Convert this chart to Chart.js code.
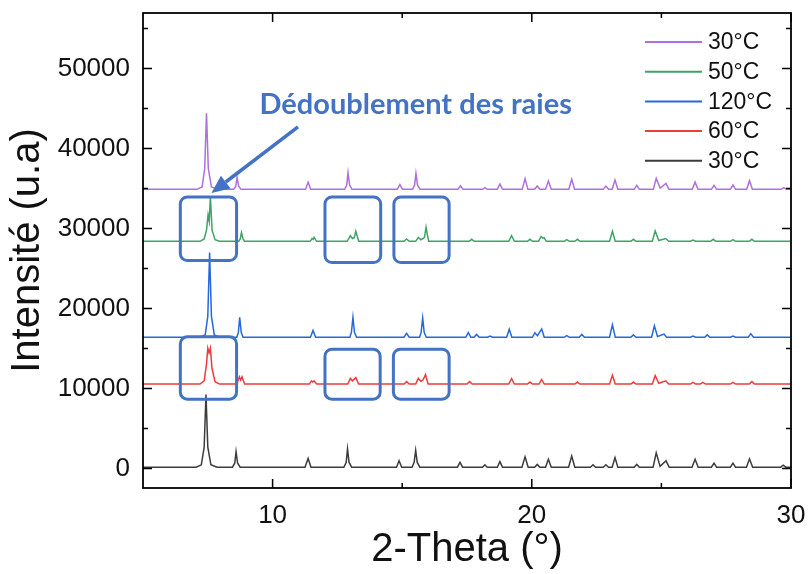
<!DOCTYPE html>
<html lang="fr">
<head>
    <meta charset="UTF-8">
    <title>DRX en température</title>
    <script src="https://cdn.jsdelivr.net/npm/chart.js"></script>
    <style>
        html, body { margin: 0; padding: 0; background: #fff; }
        #wrap { width: 810px; height: 574px; }
    </style>
</head>
<body>
    <div id="wrap">
        <canvas id="drxChart" width="810" height="574"></canvas>
    </div>

    <script>
        // Légende (de haut en bas) et décalage vertical de chaque diffractogramme
        const labels = ['30°C', '50°C', '120°C', '60°C', '30°C'];
        const colors = ['#B070DC', '#3FA366', '#2468DA', '#EE3B3B', '#3C3C3C'];
        const offsets = [34900, 28400, 16400, 10550, 150];

        // Profils : [2-theta, intensité au-dessus de la ligne de base]
        const profil30b = [
            [5,0],[7.08,0],[7.28,300],[7.38,2600],[7.45,9500],[7.52,2600],[7.64,300],[7.88,0],
            [8.5,0],[8.58,400],[8.63,1500],[8.69,400],[8.78,0],
            [11.27,0],[11.37,900],[11.47,0],
            [12.78,0],[12.86,550],[12.91,2100],[12.97,550],[13.06,0],
            [14.81,0],[14.91,600],[15.01,0],
            [15.4,0],[15.48,550],[15.53,2000],[15.59,550],[15.69,0],
            [17.15,0],[17.25,450],[17.35,0],
            [18.1,0],[18.19,200],[18.28,0],
            [18.67,0],[18.77,670],[18.87,0],
            [19.63,0],[19.74,1330],[19.85,0],
            [20.11,0],[20.21,420],[20.31,0],
            [20.53,0],[20.64,1040],[20.75,0],
            [21.43,0],[21.54,1250],[21.65,0],
            [22.76,0],[22.86,400],[22.96,0],
            [23.1,0],[23.21,1170],[23.32,0],
            [23.95,0],[24.05,500],[24.15,0],
            [24.69,0],[24.8,1370],[24.95,150],[25.18,750],[25.29,0],
            [26.19,0],[26.3,900],[26.41,0],
            [26.93,0],[27.03,500],[27.13,0],
            [27.66,0],[27.76,540],[27.86,0],
            [28.29,0],[28.4,1080],[28.51,0],
            [29.62,0],[29.72,200],[29.82,0],[30,0]
        ];
        const profil50 = [
            [5,0],[7.2,0],[7.36,300],[7.45,1400],[7.51,3300],[7.555,2500],[7.6,5600],[7.665,1400],[7.78,200],[7.95,0],
            [8.7,0],[8.75,300],[8.8,1100],[8.86,300],[8.92,0],
            [11.45,0],[11.52,350],[11.56,250],[11.6,500],[11.7,0],
            [12.88,0],[13.0,700],[13.08,350],[13.15,450],[13.21,1250],[13.32,0],
            [15.07,0],[15.17,300],[15.27,0],
            [15.52,0],[15.62,500],[15.72,200],[15.8,350],[15.86,500],[15.92,1750],[16.02,0],
            [17.58,0],[17.68,250],[17.78,0],
            [19.11,0],[19.22,700],[19.33,0],
            [19.83,0],[19.93,250],[20.03,0],
            [20.26,0],[20.36,600],[20.42,400],[20.47,450],[20.56,0],
            [21.25,0],[21.35,200],[21.45,0],
            [21.66,0],[21.76,250],[21.86,0],
            [23.0,0],[23.11,1250],[23.22,0],
            [23.82,0],[23.92,250],[24.02,0],
            [24.65,0],[24.76,1300],[24.9,100],[25.17,350],[25.28,0],
            [26.12,0],[26.22,150],[26.32,0],
            [26.9,0],[27.0,250],[27.1,0],
            [27.66,0],[27.76,200],[27.86,0],
            [28.39,0],[28.49,250],[28.59,0],[30,0]
        ];
        const profil120 = [
            [5,0],[7.2,0],[7.4,300],[7.5,2600],[7.57,10600],[7.64,2600],[7.75,300],[7.95,0],
            [8.62,0],[8.68,600],[8.73,2500],[8.79,600],[8.86,0],
            [11.46,0],[11.56,850],[11.66,0],
            [12.98,0],[13.04,600],[13.1,2500],[13.16,600],[13.24,0],
            [15.07,0],[15.17,500],[15.27,0],
            [15.67,0],[15.73,600],[15.79,2400],[15.85,600],[15.93,0],
            [17.45,0],[17.55,580],[17.65,0],
            [17.77,0],[17.87,350],[17.97,0],
            [18.29,0],[18.39,150],[18.49,0],
            [19.03,0],[19.13,1000],[19.23,0],
            [20.02,0],[20.12,570],[20.22,200],[20.38,1040],[20.48,0],
            [21.25,0],[21.35,200],[21.45,0],
            [21.83,0],[21.93,350],[22.03,0],
            [23.0,0],[23.11,1540],[23.22,0],
            [23.82,0],[23.92,300],[24.02,0],
            [24.62,0],[24.73,1420],[24.85,100],[25.1,400],[25.2,0],
            [26.12,0],[26.22,150],[26.32,0],
            [26.67,0],[26.77,300],[26.87,0],
            [27.66,0],[27.76,150],[27.86,0],
            [28.35,0],[28.45,450],[28.55,0],[30,0]
        ];
        const profil60 = [
            [5,0],[7.2,0],[7.36,400],[7.45,2500],[7.5,4500],[7.55,3900],[7.6,4500],[7.66,2000],[7.78,300],[7.95,0],
            [8.62,0],[8.72,900],[8.77,500],[8.82,900],[8.92,0],
            [11.42,0],[11.5,400],[11.55,250],[11.6,400],[11.7,0],
            [12.9,0],[13.0,700],[13.08,400],[13.21,800],[13.32,0],
            [15.07,0],[15.17,300],[15.27,0],
            [15.52,0],[15.62,700],[15.72,350],[15.8,500],[15.9,1170],[16.0,0],
            [17.5,0],[17.6,300],[17.7,0],
            [19.11,0],[19.22,670],[19.33,0],
            [19.83,0],[19.93,250],[20.03,0],
            [20.28,0],[20.38,570],[20.48,0],
            [21.66,0],[21.76,250],[21.86,0],
            [23.0,0],[23.11,1100],[23.22,0],
            [23.82,0],[23.92,250],[24.02,0],
            [24.65,0],[24.76,1070],[24.9,100],[25.17,400],[25.28,0],
            [26.12,0],[26.22,200],[26.32,0],
            [26.5,0],[26.6,200],[26.7,0],
            [27.66,0],[27.76,200],[27.86,0],
            [28.39,0],[28.49,300],[28.59,0],[30,0]
        ];
        const profil30a = [
            [5,0],[7.05,0],[7.25,300],[7.36,2500],[7.43,9100],[7.5,2500],[7.62,300],[7.85,0],
            [8.45,0],[8.54,500],[8.59,1950],[8.65,500],[8.75,0],
            [11.25,0],[11.37,1100],[11.48,0],
            [12.75,0],[12.84,600],[12.89,2300],[12.95,600],[13.05,0],
            [14.78,0],[14.88,800],[14.98,0],
            [15.38,0],[15.46,600],[15.52,2100],[15.58,600],[15.68,0],
            [17.13,0],[17.23,600],[17.33,0],
            [18.1,0],[18.19,300],[18.28,0],
            [18.67,0],[18.77,700],[18.87,0],
            [19.62,0],[19.74,1300],[19.86,0],
            [20.11,0],[20.21,350],[20.31,0],
            [20.53,0],[20.64,1000],[20.75,0],
            [21.42,0],[21.54,1400],[21.66,0],
            [22.26,0],[22.36,300],[22.46,0],
            [22.76,0],[22.86,300],[22.96,0],
            [23.1,0],[23.21,1200],[23.32,0],
            [23.95,0],[24.05,350],[24.15,0],
            [24.68,0],[24.8,1800],[24.95,100],[25.18,800],[25.3,0],
            [26.18,0],[26.3,1000],[26.42,0],
            [26.93,0],[27.03,500],[27.13,0],
            [27.66,0],[27.76,500],[27.86,0],
            [28.28,0],[28.4,1050],[28.52,0],
            [29.6,0],[29.7,250],[29.8,0],[30,0]
        ];
        const profils = [profil30b, profil50, profil120, profil60, profil30a];

        // Graduations
        const xTicks = [10, 20, 30];
        const xMinor = [15, 25];
        const yTicks = [0, 10000, 20000, 30000, 40000, 50000];
        const yMinor = [5000, 15000, 25000, 35000, 45000, 55000];

        // Annotations (coordonnées en unités des axes)
        const cadres = [
            [6.44, 8.61, 26000, 33950], [12.02, 14.17, 25750, 33950], [14.68, 16.81, 25750, 33950],
            [6.44, 8.61, 8660, 16450], [12.02, 14.15, 8660, 14910], [14.66, 16.81, 8660, 14910]
        ];
        const fleche = { from: [10.98, 42700], to: [7.64, 34450] };
        const texte = { label: 'Dédoublement des raies', x: 15.52, y: 45500 };
        const bleu = '#4472C4';

        const datasets = profils.map((p, i) => ({
            label: labels[i],
            data: p.map(pt => ({ x: pt[0], y: pt[1] + offsets[i] })),
            borderColor: colors[i],
            borderWidth: 1.5,
            pointRadius: 0,
            tension: 0,
            fill: false
        }));

        function cadreArrondi(ctx, x0, y0, x1, y1, r) {
            ctx.beginPath();
            ctx.moveTo(x0 + r, y0);
            ctx.arcTo(x1, y0, x1, y1, r);
            ctx.arcTo(x1, y1, x0, y1, r);
            ctx.arcTo(x0, y1, x0, y0, r);
            ctx.arcTo(x0, y0, x1, y0, r);
            ctx.closePath();
            ctx.stroke();
        }

        // pas de marge automatique autour des axes : la zone du graphe reste fixe
        function sansMarge(s) {
            s.paddingTop = 0; s.paddingBottom = 0;
            s.paddingLeft = 0; s.paddingRight = 0;
        }

        const decor = {
            id: 'decor',
            afterDatasetsDraw(chart) {
                const { ctx, chartArea: a, scales: { x, y } } = chart;
                ctx.save();

                // cadre + graduations vers l'intérieur sur les 4 côtés
                ctx.strokeStyle = '#000';
                ctx.lineWidth = 1.8;
                ctx.strokeRect(a.left, a.top, a.right - a.left, a.bottom - a.top);
                ctx.lineWidth = 1.5;
                ctx.beginPath();
                const tx = (v, len) => {
                    const px = x.getPixelForValue(v);
                    ctx.moveTo(px, a.bottom); ctx.lineTo(px, a.bottom - len);
                    ctx.moveTo(px, a.top); ctx.lineTo(px, a.top + len);
                };
                const ty = (v, len) => {
                    const py = y.getPixelForValue(v);
                    ctx.moveTo(a.left, py); ctx.lineTo(a.left + len, py);
                    ctx.moveTo(a.right, py); ctx.lineTo(a.right - len, py);
                };
                xTicks.forEach(v => tx(v, 9));
                xMinor.forEach(v => tx(v, 5));
                yTicks.forEach(v => ty(v, 9));
                yMinor.forEach(v => ty(v, 5));
                ctx.stroke();

                // cadres arrondis
                ctx.strokeStyle = bleu;
                ctx.lineWidth = 3;
                cadres.forEach(c => {
                    cadreArrondi(ctx, x.getPixelForValue(c[0]), y.getPixelForValue(c[3]),
                        x.getPixelForValue(c[1]), y.getPixelForValue(c[2]), 7);
                });

                // flèche
                const fx = x.getPixelForValue(fleche.from[0]), fy = y.getPixelForValue(fleche.from[1]);
                const ex = x.getPixelForValue(fleche.to[0]), ey = y.getPixelForValue(fleche.to[1]);
                const ang = Math.atan2(ey - fy, ex - fx);
                const head = 18, half = 8;
                const bx = ex - head * Math.cos(ang), by = ey - head * Math.sin(ang);
                ctx.lineWidth = 3.5;
                ctx.beginPath();
                ctx.moveTo(fx, fy);
                ctx.lineTo(bx, by);
                ctx.stroke();
                ctx.fillStyle = bleu;
                ctx.beginPath();
                ctx.moveTo(ex, ey);
                ctx.lineTo(bx + half * Math.sin(ang), by - half * Math.cos(ang));
                ctx.lineTo(bx - half * Math.sin(ang), by + half * Math.cos(ang));
                ctx.closePath();
                ctx.fill();

                // texte
                ctx.font = 'bold 29px Lato';
                ctx.textAlign = 'center';
                ctx.textBaseline = 'middle';
                ctx.fillText(texte.label, x.getPixelForValue(texte.x), y.getPixelForValue(texte.y));

                // légende en haut à droite
                ctx.font = '23px "Liberation Sans"';
                ctx.textAlign = 'left';
                ctx.fillStyle = '#111';
                labels.forEach((lab, i) => {
                    const ly = a.top + 29 + i * 29.7;
                    ctx.strokeStyle = colors[i];
                    ctx.lineWidth = 2;
                    ctx.beginPath();
                    ctx.moveTo(a.right - 146, ly);
                    ctx.lineTo(a.right - 89, ly);
                    ctx.stroke();
                    ctx.fillText(lab, a.right - 83, ly + 1);
                });
                ctx.restore();
            }
        };

        const ctx = document.getElementById('drxChart').getContext('2d');
        new Chart(ctx, {
            type: 'line',
            data: { datasets: datasets },
            options: {
                responsive: false,
                animation: false,
                layout: { padding: { left: 0, right: 19, top: 13, bottom: 0 } },
                plugins: { legend: { display: false }, tooltip: { enabled: false } },
                scales: {
                    x: {
                        type: 'linear',
                        min: 5,
                        max: 30,
                        afterBuildTicks: s => { s.ticks = xTicks.map(v => ({ value: v })); },
                        afterFit: s => { s.height = 86; sansMarge(s); },
                        grid: { display: false, drawTicks: false },
                        border: { display: false },
                        ticks: {
                            color: '#111',
                            padding: 12,
                            maxRotation: 0,
                            font: { family: '"Liberation Sans"', size: 26 }
                        },
                        title: {
                            display: true,
                            text: '2-Theta (°)',
                            color: '#111',
                            padding: 0,
                            font: { family: '"Liberation Sans"', size: 40 }
                        }
                    },
                    y: {
                        min: -2450,
                        max: 56950,
                        afterBuildTicks: s => { s.ticks = yTicks.map(v => ({ value: v })); },
                        afterFit: s => { s.width = 143; sansMarge(s); },
                        grid: { display: false, drawTicks: false },
                        border: { display: false },
                        ticks: {
                            color: '#111',
                            padding: 13,
                            font: { family: '"Liberation Sans"', size: 26 },
                            callback: v => String(v)
                        },
                        title: {
                            display: true,
                            text: 'Intensité (u.a)',
                            color: '#111',
                            padding: { top: 4, bottom: 0 },
                            font: { family: '"Liberation Sans"', size: 40 }
                        }
                    }
                }
            },
            plugins: [decor]
        });
    </script>
</body>
</html>
